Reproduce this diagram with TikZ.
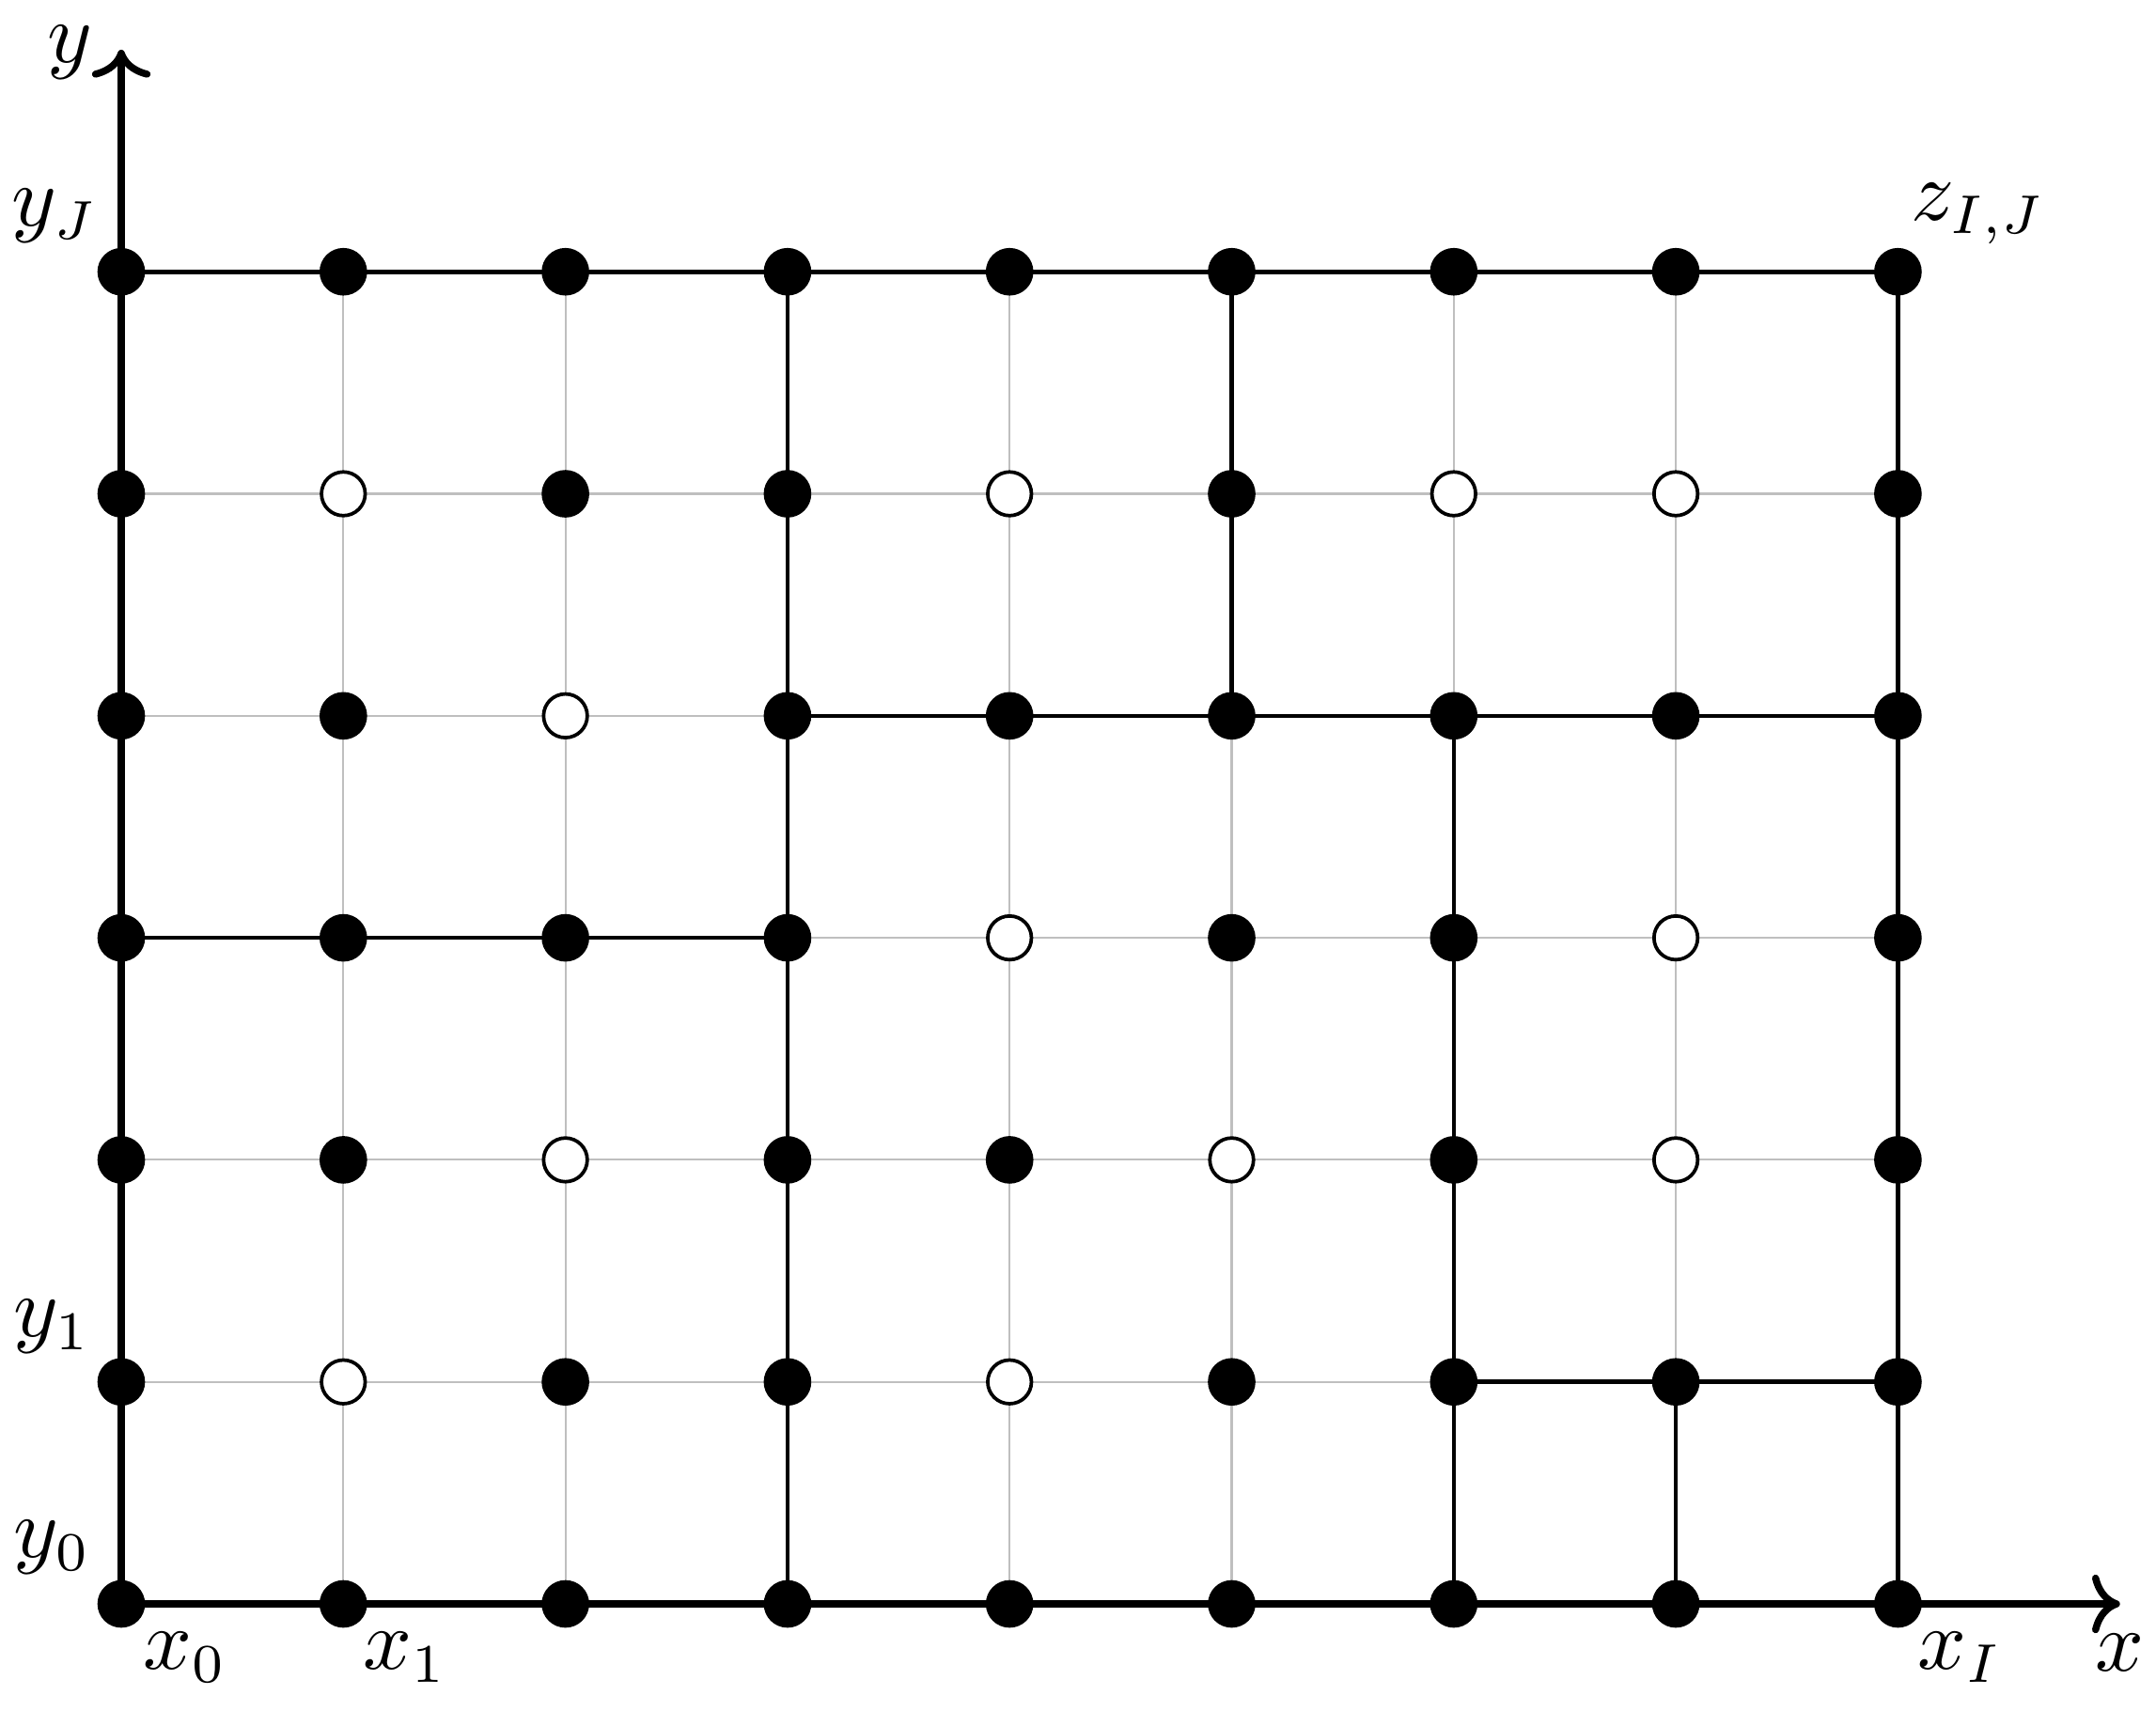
\documentclass[tikz,border=0pt]{standalone}
\usetikzlibrary{arrows.meta}
\begin{document}
\begin{tikzpicture}[
  gridline/.style={draw=black!25, line width=0.25pt},
  edge/.style={line width=0.55pt},
  axis/.style={line width=0.9pt, ->},
  fdot/.style={circle, fill=black, inner sep=0pt, minimum size=6.1pt},
  odot/.style={circle, draw=black, fill=white, line width=0.45pt, inner sep=0pt, minimum size=5.6pt},
  lab/.style={inner sep=0pt, font=\fontsize{10.5}{12.5}\selectfont}
]
\useasboundingbox (-0.546,-0.482) rectangle (9.162,7.224);
\foreach \i in {0,...,8}{\foreach \j in {0,...,6}{\coordinate (c-\i-\j) at (\i,\j);}}
\coordinate (xend) at (9,0);
\coordinate (yend) at (0,7);
\draw[gridline] (0,0) grid (8,6);
% axes
\draw[axis] (c-0-0) -- (xend);
\draw[axis] (c-0-0) -- (yend);
% black edges
\draw[edge] (c-0-6) -- (c-8-6);
\draw[edge] (c-8-0) -- (c-8-6);
\draw[edge] (c-3-0) -- (c-3-6);
\draw[edge] (c-5-4) -- (c-5-6);
\draw[edge] (c-3-4) -- (c-8-4);
\draw[edge] (c-6-0) -- (c-6-4);
\draw[edge] (c-0-3) -- (c-3-3);
\draw[edge] (c-6-1) -- (c-8-1);
\draw[edge] (c-7-0) -- (c-7-1);
% dots
\foreach \j/\row in {
  0/{fdot,fdot,fdot,fdot,fdot,fdot,fdot,fdot,fdot},
  1/{fdot,odot,fdot,fdot,odot,fdot,fdot,fdot,fdot},
  2/{fdot,fdot,odot,fdot,fdot,odot,fdot,odot,fdot},
  3/{fdot,fdot,fdot,fdot,odot,fdot,fdot,odot,fdot},
  4/{fdot,fdot,odot,fdot,fdot,fdot,fdot,fdot,fdot},
  5/{fdot,odot,fdot,fdot,odot,fdot,odot,odot,fdot},
  6/{fdot,fdot,fdot,fdot,fdot,fdot,fdot,fdot,fdot}}{
  \foreach \s [count=\i from 0] in \row {
    \node[\s] (p-\i-\j) at (c-\i-\j) {};
  }
}
% labels
\node[lab] (ly)  at (-0.23,6.99) {$y$};
\node[lab] (lx)  at (9.0,-0.22) {$x$};
\node[lab] (lyJ) at (-0.30,6.25) {$y_J$};
\node[lab] (ly1) at (-0.31,1.25) {$y_1$};
\node[lab] (ly0) at (-0.31,0.255) {$y_0$};
\node[lab] (lx0) at (0.29,-0.24) {$x_0$};
\node[lab] (lx1) at (1.28,-0.24) {$x_1$};
\node[lab] (lxI) at (8.28,-0.24) {$x_I$};
\node[lab] (lz)  at (8.36,6.26) {$z_{I,J}$};
\end{tikzpicture}
\end{document}
